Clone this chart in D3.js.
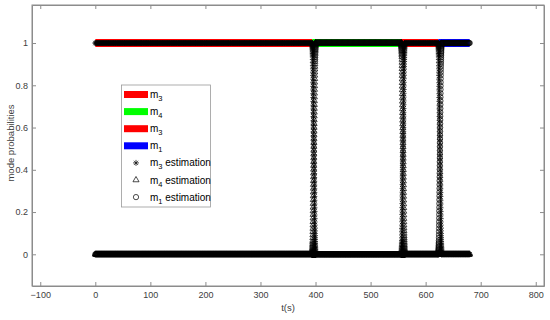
<!DOCTYPE html>
<html>
<head>
<meta charset="utf-8">
<script src="https://cdn.jsdelivr.net/npm/d3@7"></script>
<style>
body { margin: 0; background: #fff; }
text { font-family: "Liberation Sans", Arial, sans-serif; }
</style>
</head>
<body>
<script>
// true mode sequence: switch times (s) and the mode active between them
var switchTimes = [0, 394, 556, 623, 680];
var trueModes = ["m3", "m4", "m3", "m1"];
var modeColors = {m3: "#ff0000", m4: "#00ff00", m1: "#0000ff"};

// estimators drawn as markers
var estModes = ["m3", "m4", "m1"];
var estSymbols = ["star", "triangle", "circle"];

// probability of the incoming mode during a switch, one value per rampStep
var transitionRamp = [0.000,0.002,0.004,0.007,0.010,0.013,0.017,0.021,0.026,0.031,0.037,0.043,0.050,0.057,0.065,
  0.078,0.092,0.107,0.122,0.138,0.154,0.171,0.188,0.205,0.222,0.240,0.258,0.276,0.294,0.312,
  0.330,0.348,0.366,0.384,0.402,0.420,0.438,0.456,0.474,0.492,0.510,0.528,0.546,0.564,0.582,
  0.600,0.618,0.636,0.654,0.672,0.690,0.708,0.726,0.744,0.762,0.780,0.797,0.814,0.831,0.847,
  0.862,0.876,0.889,0.901,0.912,0.922,0.931,0.940,0.948,0.955,0.962,0.968,0.974,0.979,0.984,
  0.988,0.992,0.995,0.998,1.000];
var rampStep = 0.075;
var sampleStep = 1;

var xTicks = [-100, 0, 100, 200, 300, 400, 500, 600, 700, 800];
var yTicks = [0, 0.2, 0.4, 0.6, 0.8, 1];

var legendLines = ["3", "4", "3", "1"];
var legendLineColors = ["#ff0000", "#00ff00", "#ff0000", "#0000ff"];
var legendMarks = ["3", "4", "1"];

var W = 550, H = 320;
var L = 32, R = 544, T = 5, B = 286;

var x = d3.scaleLinear().domain([-115, 815]).range([L, R]);
var y = d3.scaleLinear().domain([-0.15, 1.18]).range([B, T]);

var svg = d3.select("body").append("svg").attr("width", W).attr("height", H);

// build the estimation samples
var points = [];
for (var k = 0; k < trueModes.length; k++) {
  var t0 = switchTimes[k], t1 = switchTimes[k + 1];
  var start = k === 0 ? t0 : t0 + transitionRamp.length * rampStep;
  for (var t = start; t <= t1; t += sampleStep) {
    estModes.forEach(function(m, i) {
      points.push({t: t, p: m === trueModes[k] ? 1 : 0, s: estSymbols[i]});
    });
  }
  if (k > 0) {
    transitionRamp.forEach(function(r, j) {
      var tt = t0 + j * rampStep;
      estModes.forEach(function(m, i) {
        var p = 0;
        if (m === trueModes[k]) p = r;
        else if (m === trueModes[k - 1]) p = 1 - r;
        points.push({t: tt, p: p, s: estSymbols[i]});
      });
    });
  }
}

function starPath(r) {
  var d = r * 0.7071;
  return "M" + (-r) + ",0L" + r + ",0M0," + (-r) + "L0," + r +
    "M" + (-d) + "," + (-d) + "L" + d + "," + d + "M" + (-d) + "," + d + "L" + d + "," + (-d);
}
var triPath = d3.symbol().type(d3.symbolTriangle).size(16)();
function markerPath(s) {
  if (s === "star") return starPath(3);
  if (s === "triangle") return triPath;
  return d3.symbol().type(d3.symbolCircle).size(22)();
}

// axes box
svg.append("rect").attr("x", L).attr("y", T).attr("width", R - L).attr("height", B - T)
  .attr("fill", "#fff").attr("stroke", "#8c8c8c").attr("stroke-width", 1);

var gx = svg.append("g").attr("transform", "translate(0," + B + ")")
  .call(d3.axisBottom(x).tickValues(xTicks).tickSizeInner(-4).tickSizeOuter(0).tickPadding(6));
var gxt = svg.append("g").attr("transform", "translate(0," + T + ")")
  .call(d3.axisTop(x).tickValues(xTicks).tickSizeInner(-4).tickSizeOuter(0).tickFormat(""));
var gy = svg.append("g").attr("transform", "translate(" + L + ",0)")
  .call(d3.axisLeft(y).tickValues(yTicks).tickSizeInner(-4).tickSizeOuter(0).tickPadding(4).tickFormat(d3.format("~g")));
var gyr = svg.append("g").attr("transform", "translate(" + R + ",0)")
  .call(d3.axisRight(y).tickValues(yTicks).tickSizeInner(-4).tickSizeOuter(0).tickFormat(""));
[gx, gxt, gy, gyr].forEach(function(g) {
  g.select(".domain").attr("stroke", "#8c8c8c");
  g.selectAll(".tick line").attr("stroke", "#8c8c8c");
  g.selectAll(".tick text").attr("fill", "#404040").style("font-size", "9px");
});

// true mode lines
var seg = svg.append("g");
trueModes.forEach(function(m, k) {
  seg.append("line")
    .attr("x1", x(switchTimes[k])).attr("x2", x(switchTimes[k + 1]))
    .attr("y1", y(1)).attr("y2", y(1))
    .attr("stroke", modeColors[m]).attr("stroke-width", 8);
});

// estimation markers
svg.append("g").selectAll("path").data(points).enter().append("path")
  .attr("transform", function(d) { return "translate(" + x(d.t) + "," + y(d.p) + ")"; })
  .attr("d", function(d) { return markerPath(d.s); })
  .attr("fill", "none").attr("stroke", "#000").attr("stroke-width", 0.7);

// axis labels
svg.append("text").attr("x", (L + R) / 2).attr("y", 311).attr("text-anchor", "middle")
  .style("font-size", "9.5px").attr("fill", "#404040").text("t(s)");
svg.append("text").attr("transform", "translate(13.5,143) rotate(-90)")
  .attr("text-anchor", "middle").style("font-size", "9.5px").attr("fill", "#404040")
  .text("mode probabilities");

// legend
var lg = svg.append("g");
lg.append("rect").attr("x", 121.5).attr("y", 85).attr("width", 89).attr("height", 122)
  .attr("fill", "#fff").attr("stroke", "#9a9a9a").attr("stroke-width", 0.8);
var rowY = d3.range(7).map(function(i) { return 94.5 + i * 17.1; });

function mLabel(g, yy, sub, extra) {
  var t = g.append("text").attr("x", 150).attr("y", yy + 3.5).style("font-size", "10px").attr("fill", "#000");
  t.append("tspan").text("m");
  t.append("tspan").attr("dy", 3).style("font-size", "7.5px").text(sub);
  if (extra) t.append("tspan").attr("dy", -3).text(" " + extra);
}
legendLines.forEach(function(s, i) {
  lg.append("rect").attr("x", 124).attr("y", rowY[i] - 3.5).attr("width", 24).attr("height", 7)
    .attr("fill", legendLineColors[i]);
  mLabel(lg, rowY[i], s);
});
legendMarks.forEach(function(s, i) {
  var yy = rowY[4 + i];
  lg.append("path").attr("transform", "translate(136," + yy + ")")
    .attr("d", markerPath(estSymbols[i]))
    .attr("fill", "none").attr("stroke", "#000").attr("stroke-width", 0.7);
  mLabel(lg, yy, s, "estimation");
});
</script>
</body>
</html>
